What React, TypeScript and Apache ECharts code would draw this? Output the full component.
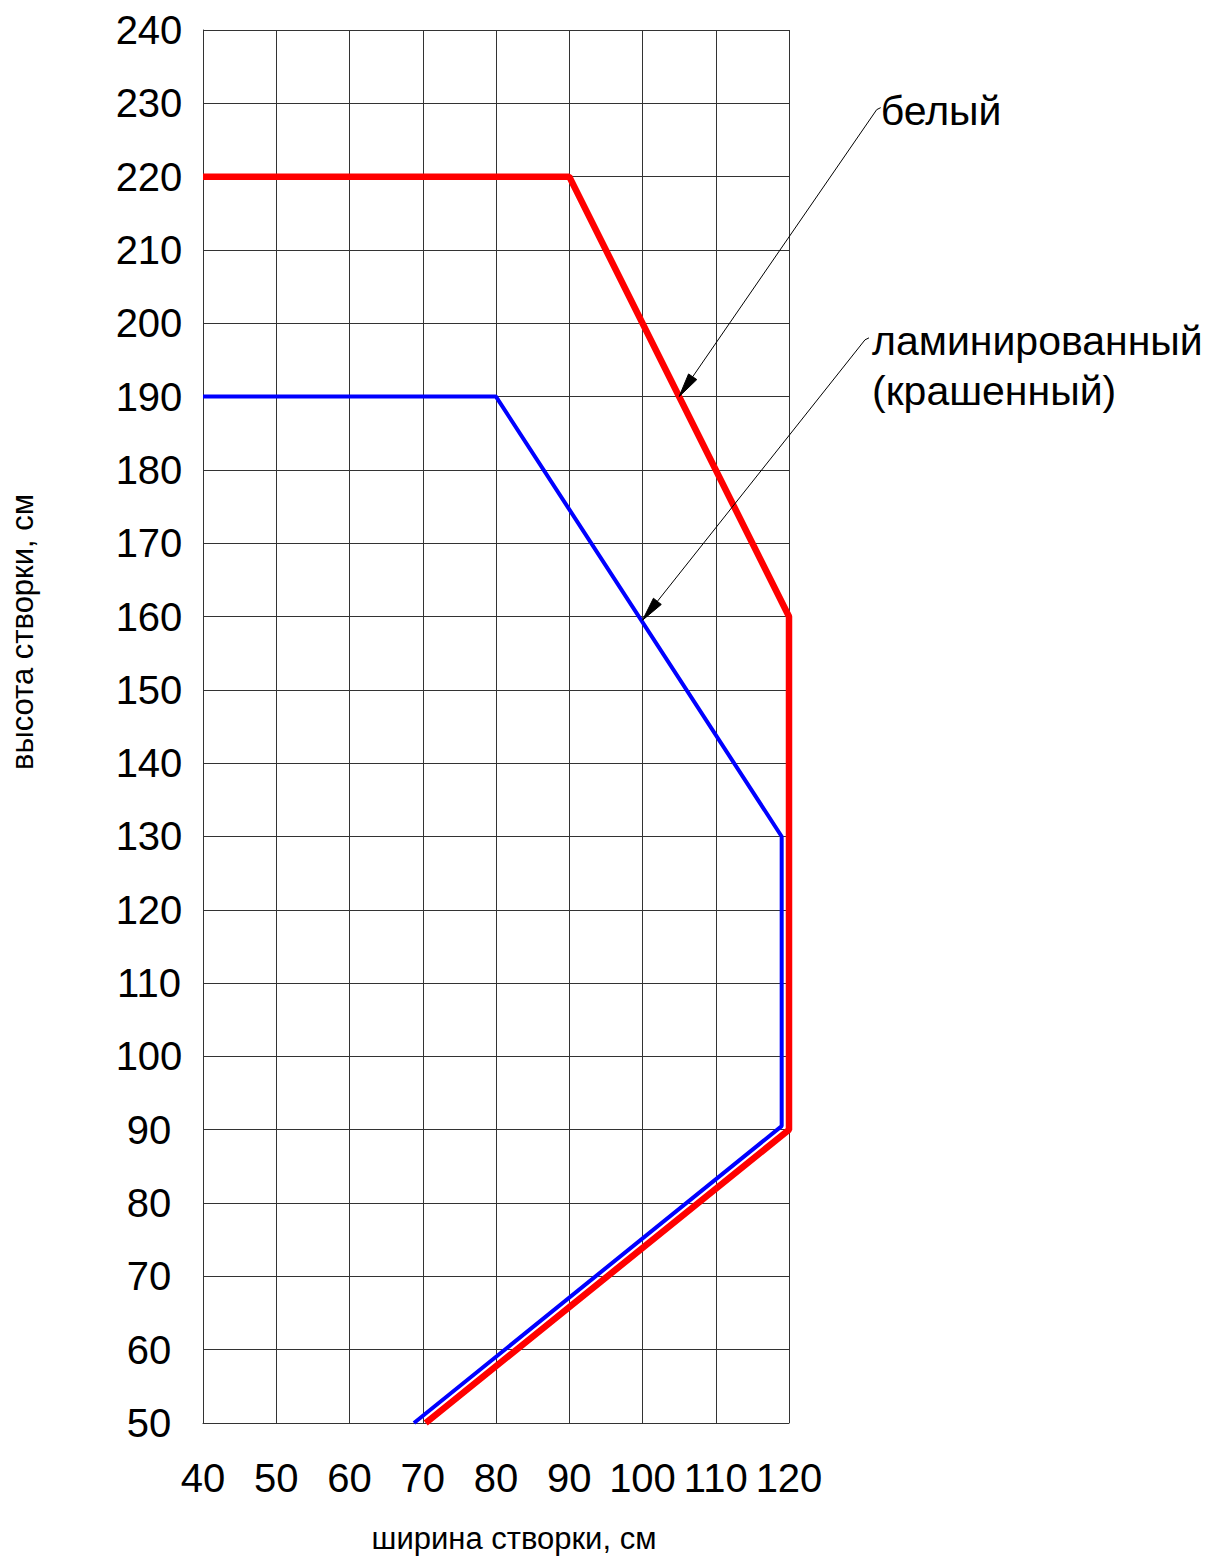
import React, { useEffect, useRef } from "react";
import * as echarts from "echarts";

// Sash width (cm) vs. maximum sash height (cm)
const whiteWidth = [40, 90, 120, 120, 70.4];
const whiteHeight = [220, 220, 160, 90, 50];
const laminatedWidth = [40, 80, 119, 119, 68.8];
const laminatedHeight = [190, 190, 130, 90.5, 50];

const xTicks = { min: 40, max: 120, step: 10 };
const yTicks = { min: 50, max: 240, step: 10 };

const xName = "ширина створки, см";
const yName = "высота створки, см";

// Callout texts with the leader start and the arrow tip, in data units
const callouts = [
  { lines: ["белый"], from: [131.7, 229.0], to: [105, 190] },
  { lines: ["ламинированный", "(крашенный)"], from: [130.1, 197.6], to: [100, 159.5] },
];

const FONT = "'Liberation Sans', Arial, sans-serif";

export default function App() {
  const ref = useRef<HTMLDivElement>(null);

  useEffect(() => {
    if (!ref.current) return;
    const chart = echarts.init(ref.current, undefined, { renderer: "svg" });

    const pairs = (xs: number[], ys: number[]) => xs.map((x, i) => [x, ys[i]]);

    chart.setOption({
      animation: false,
      backgroundColor: "#ffffff",
      grid: { left: 203, top: 30, width: 586, height: 1393, containLabel: false },
      xAxis: {
        type: "value",
        min: xTicks.min,
        max: xTicks.max,
        interval: xTicks.step,
        axisLine: { show: true, lineStyle: { color: "#333", width: 1 } },
        axisTick: { show: false },
        axisLabel: { margin: 35, fontFamily: FONT, fontSize: 40, color: "#000" },
        splitLine: { show: true, lineStyle: { color: "#333", width: 1 } },
      },
      yAxis: {
        type: "value",
        min: yTicks.min,
        max: yTicks.max,
        interval: yTicks.step,
        axisLine: { show: true, lineStyle: { color: "#333", width: 1 } },
        axisTick: { show: false },
        axisLabel: { margin: 54, align: "center", fontFamily: FONT, fontSize: 40, color: "#000" },
        splitLine: { show: true, lineStyle: { color: "#333", width: 1 } },
      },
      series: [
        {
          name: "ламинированный",
          type: "line",
          data: pairs(laminatedWidth, laminatedHeight),
          showSymbol: false,
          lineStyle: { color: "#0000ff", width: 4 },
          z: 2,
        },
        {
          name: "белый",
          type: "line",
          data: pairs(whiteWidth, whiteHeight),
          showSymbol: false,
          lineStyle: { color: "#ff0000", width: 6.5 },
          z: 3,
        },
      ],
    });

    const graphics: any[] = [
      {
        type: "text",
        x: 514,
        y: 1538,
        style: {
          text: xName,
          fontFamily: FONT,
          fontSize: 31,
          fill: "#000",
          textAlign: "center",
          textVerticalAlign: "middle",
        },
      },
      {
        type: "text",
        x: 22,
        y: 632,
        rotation: Math.PI / 2,
        style: {
          text: yName,
          fontFamily: FONT,
          fontSize: 31,
          fill: "#000",
          textAlign: "center",
          textVerticalAlign: "middle",
        },
      },
    ];

    // Callout leaders with filled arrowheads, placed through the grid's scales
    callouts.forEach((c) => {
      const p0 = chart.convertToPixel({ gridIndex: 0 }, c.from) as number[];
      const p1 = chart.convertToPixel({ gridIndex: 0 }, c.to) as number[];
      const dx = p1[0] - p0[0];
      const dy = p1[1] - p0[1];
      const len = Math.hypot(dx, dy);
      const ux = dx / len;
      const uy = dy / len;
      const headLen = 24;
      const headHalf = 5;
      const bx = p1[0] - ux * headLen;
      const by = p1[1] - uy * headLen;
      graphics.push({
        type: "polyline",
        z: 10,
        shape: {
          points: [
            [p0[0] + 6, p0[1] - 3],
            [p0[0] + 2, p0[1] - 1],
            [bx, by],
          ],
        },
        style: { stroke: "#000", lineWidth: 1, fill: null },
      });
      graphics.push({
        type: "polygon",
        z: 10,
        shape: {
          points: [
            [p1[0], p1[1]],
            [bx - uy * headHalf, by + ux * headHalf],
            [bx + uy * headHalf, by - ux * headHalf],
          ],
        },
        style: { fill: "#000", stroke: "#000", lineWidth: 1 },
      });
      c.lines.forEach((t, i) => {
        graphics.push({
          type: "text",
          z: 10,
          x: p0[0] + (c.lines.length === 1 ? 6 : 9),
          y: p0[1] + i * 50,
          style: {
            text: t,
            fontFamily: FONT,
            fontSize: 41,
            fill: "#000",
            textAlign: "left",
            textVerticalAlign: "middle",
          },
        });
      });
    });
    chart.setOption({ graphic: graphics });

    return () => chart.dispose();
  }, []);

  return (
    <div
      ref={ref}
      style={{ position: "absolute", left: 0, top: 0, width: 1206, height: 1556, background: "#fff" }}
    />
  );
}
